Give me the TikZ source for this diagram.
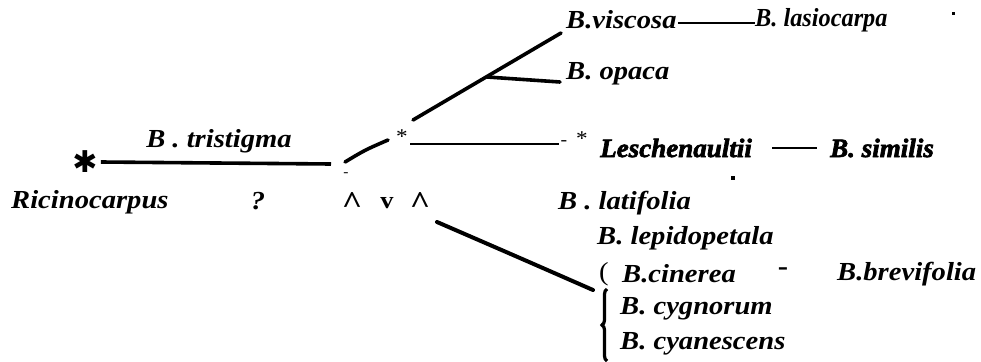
\documentclass[tikz,border=0pt]{standalone}
\usepackage{fontspec}
\setmainfont{Liberation Serif}[FakeStretch=1.1]
\newfontfamily\heavyfont{Liberation Serif}[FakeStretch=1.02,FakeBold=2.5]
\newfontfamily\symfont{DejaVu Sans}
\usetikzlibrary{decorations.pathreplacing}

\begin{document}
\begin{tikzpicture}[x=1pt,y=-1pt]
    \tikzset{taxon/.style={anchor=west,inner sep=0pt,font=\fontsize{26}{30}\selectfont\bfseries\itshape},
      heavytaxon/.style={anchor=west,inner sep=0pt,font=\fontsize{26.5}{30}\heavyfont\bfseries\itshape},
      sign/.style={inner sep=0pt,font=\fontsize{24}{24}\selectfont\bfseries},
      branch/.style={line width=3.6pt,line cap=round},
      twig/.style={line width=2.7pt}}
    \useasboundingbox (0,0) rectangle (981,361);
    % root and first branch
    \node[inner sep=3pt,font=\fontsize{30}{30}\symfont\bfseries] (root) at (85,162) {✱};
    \node[taxon,anchor=center] (tri) at (219,141) {B . tristigma};
    \node[taxon] (ricino) at (11,202) {Ricinocarpus};
    \node[taxon,anchor=center] (query) at (258,201) {?};
    \coordinate (fork) at (331,164);
    \draw[branch,line cap=butt] (root.east) -- (fork);
    \node[sign,font=\fontsize{14}{14}\selectfont] (tick) at (346,175) {-};
    \node[sign,font=\fontsize{32}{32}\selectfont\bfseries] (upA) at (352,203) {\^{}};
    \node[sign] (vee) at (387,203) {v};
    \node[sign,font=\fontsize{32}{32}\selectfont\bfseries] (upB) at (420,203) {\^{}};
    % middle stem
    \coordinate (s0) at (345,162);
    \coordinate (s1) at (388,140);
    \draw[branch] (s0) .. controls (365,150) .. (s1);
    \node[font=\fontsize{21}{21}\selectfont] (starA) at (402,137) {*};
    \coordinate (m0) at (410,144);
    \coordinate (m1) at (559,144);
    \draw[twig] (m0) -- (m1);
    \node[sign,font=\fontsize{18}{18}\selectfont] (dashA) at (564,143) {-};
    \node[font=\fontsize{21}{21}\selectfont] (starB) at (582,139) {*};
    % upper clade
    \node[taxon] (viscosa) at (566,20) {B.viscosa};
    \node[taxon] (lasio) at (755,20) {\scalebox{0.85}[1]{B. lasiocarpa}};
    \node[taxon] (opaca) at (566,74) {B. opaca};
    \coordinate (u0) at (413,120);
    \coordinate (u1) at (561,33);
    \coordinate (u2) at (487,77);
    \coordinate (u3) at (560,82);
    \draw[branch] (u0) -- (u1);
    \draw[branch] (u2) -- (u3);
    \draw[twig] ([xshift=1pt]viscosa.east |- 0,23) -- (lasio.west |- 0,23);
    \fill (952,12) rectangle (955,15);
    % Leschenaultii group
    \node[heavytaxon] (lesch) at (600,148) {Leschenaultii};
    \node[heavytaxon] (similis) at (830,148) {B. similis};
    \draw[line width=2.8pt] ([xshift=20pt]lesch.east |- 0,148) -- ([xshift=-13pt]similis.west |- 0,148);
    \fill (731,176) rectangle (735,180);
    % lower clade
    \node[taxon] (latif) at (558,203) {B . latifolia};
    \node[taxon] (lepido) at (597,238) {B. lepidopetala};
    \node[taxon,font=\fontsize{26}{30}\selectfont] (paren) at (599,274) {(};
    \node[taxon] (cinerea) at (622,274) {B.cinerea};
    \node[sign,font=\fontsize{28}{28}\selectfont\bfseries] (dashB) at (783,272) {-};
    \node[taxon] (brevi) at (837,274) {B.brevifolia};
    \node[taxon] (cygn) at (620,309) {B. cygnorum};
    \node[taxon] (cyan) at (620,344) {B. cyanescens};
    \coordinate (l0) at (437,222);
    \coordinate (l1) at (593,290);
    \draw[branch,line width=4pt] (l0) .. controls (520,258) .. (l1);
    \draw[line width=3.2pt,decorate,decoration={brace,amplitude=5pt}]
      (607,361) -- (607,289);
\end{tikzpicture}
\end{document}
